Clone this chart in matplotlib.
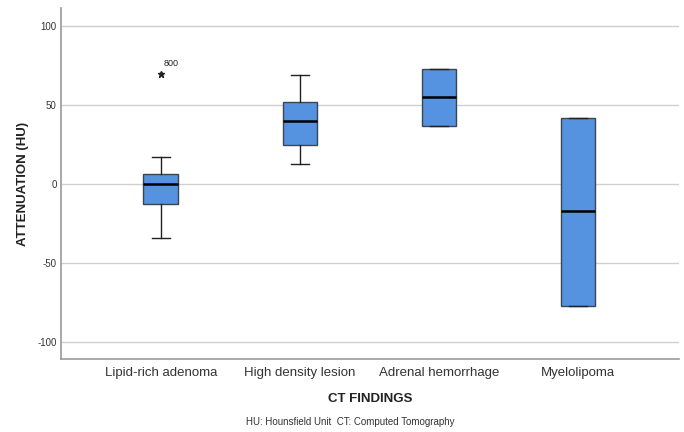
import matplotlib
matplotlib.use("Agg")
import matplotlib.pyplot as plt

categories = ["Lipid-rich adenoma", "High density lesion", "Adrenal hemorrhage", "Myelolipoma"]
whislo = [-34, 13, 37, -77]
q1 = [-12.5, 25, 37, -77]
med = [0, 40, 55, -17]
q3 = [6.5, 52, 73, 42]
whishi = [17, 69, 73, 42]
fliers = [[70], [], [], []]
flier_labels = [["800"], [], [], []]
yticks = [-100, -50, 0, 50, 100]

plt.rcParams['font.family'] = ['Liberation Sans', 'DejaVu Sans']
fig = plt.figure(figsize=(6.84, 4.32), dpi=100)
ax = fig.add_axes([0.089, 0.169, 0.904, 0.812])

stats = []
for i, c in enumerate(categories):
    stats.append(dict(label=c, whislo=whislo[i], q1=q1[i], med=med[i], q3=q3[i],
                      whishi=whishi[i], fliers=fliers[i]))

positions = list(range(1, len(categories) + 1))
ax.bxp(stats, positions=positions, widths=0.25, patch_artist=True, showfliers=True,
       boxprops=dict(facecolor="#5593e0", edgecolor="#3c4450", linewidth=1.0),
       medianprops=dict(color="black", linewidth=1.8),
       whiskerprops=dict(color="#222222", linewidth=1.0),
       capprops=dict(color="#222222", linewidth=1.0),
       flierprops=dict(marker="*", markersize=4.5, markerfacecolor="#222222",
                       markeredgecolor="#222222", linestyle="none"),
       capwidths=0.13, zorder=3)

for i, (fl, lb) in enumerate(zip(fliers, flier_labels)):
    for v, t in zip(fl, lb):
        ax.annotate(t, (positions[i], v), xytext=(2, 4), textcoords="offset points",
                    fontsize=6.5, color="#222222", ha="left", va="bottom")

ax.set_xlim(0.281, 4.727)
ax.set_ylim(-110.8, 111.4)
ax.set_yticks(yticks)
ax.set_yticklabels([str(v) for v in yticks], fontsize=7, color="#333333")
ax.set_xticks(positions)
ax.set_xticklabels(categories, fontsize=9.5, color="#333333")
ax.tick_params(axis="x", length=0, pad=6)
ax.tick_params(axis="y", length=0, pad=3)
ax.yaxis.grid(True, color="#d0d0d0", linewidth=1.0)
ax.set_axisbelow(True)
for s in ["top", "right"]:
    ax.spines[s].set_visible(False)
for s in ["left", "bottom"]:
    ax.spines[s].set_color("#9a9a9a")
    ax.spines[s].set_linewidth(1.2)

ax.set_ylabel("ATTENUATION (HU)", fontsize=9.5, fontweight="bold", color="#222222", labelpad=6)
ax.set_xlabel("CT FINDINGS", fontsize=9.5, fontweight="bold", color="#222222", labelpad=10)
fig.text(0.512, 0.012, "HU: Hounsfield Unit  CT: Computed Tomography", fontsize=7,
         color="#333333", ha="center", va="bottom")

fig.savefig("out.png", dpi=100)
